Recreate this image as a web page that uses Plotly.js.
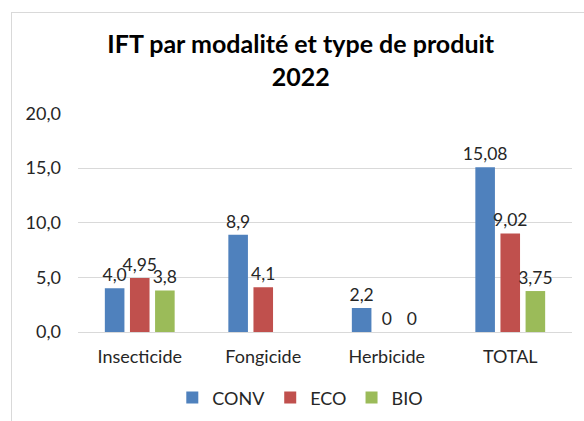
<!DOCTYPE html>
<html><head><meta charset="utf-8">
<script src="https://cdn.plot.ly/plotly-3.0.1.min.js"></script>
<style>
body{margin:0;background:#fff;}
#wrap{position:relative;width:584px;height:421px;overflow:hidden;}
#chart{position:absolute;left:0;top:0;width:584px;height:421px;}
#frame{position:absolute;left:11px;top:12px;width:600px;height:420px;border-left:1px solid #d9d9d9;border-top:1px solid #d9d9d9;pointer-events:none;}
</style></head>
<body><div id="wrap"><div id="chart"></div><div id="frame"></div></div>
<script>
const categories = ["Insecticide", "Fongicide", "Herbicide", "TOTAL"];
const seriesNames = ["CONV", "ECO", "BIO"];
const convValues = [4.0, 8.9, 2.2, 15.08];
const ecoValues = [4.95, 4.1, 0, 9.02];
const bioValues = [3.8, null, 0, 3.75];
const convLabels = ["4,0", "8,9", "2,2", "15,08"];
const ecoLabels = ["4,95", "4,1", "0", "9,02"];
const bioLabels = ["3,8", "", "0", "3,75"];
const yTicks = [0, 5, 10, 15, 20];

const colors = ["#4f81bd", "#c0504d", "#9bbb59"];
const vals = [convValues, ecoValues, bioValues];
const labs = [convLabels, ecoLabels, bioLabels];
const font = "Lato, 'Open Sans', sans-serif";

const traces = seriesNames.map((n, i) => ({
  type: "bar", name: n, x: categories, y: vals[i], text: labs[i],
  textposition: "outside", cliponaxis: false, constraintext: "none",
  textfont: {family: font, size: 17.5, color: "#262626"},
  marker: {color: colors[i]}, hoverinfo: "none"
}));

const layout = {
  width: 584, height: 421,
  margin: {l: 78, r: 12, t: 113, b: 89},
  paper_bgcolor: "#fff", plot_bgcolor: "#fff",
  separators: ", ",
  title: {text: "<b>IFT par modalité et type de produit<br>2022</b>", x: 0.515, xanchor: "center", y: 0.873, yanchor: "middle",
          font: {family: font, size: 25, color: "#000"}},
  barmode: "group", bargap: 0.39, bargroupgap: 0.22,
  xaxis: {showgrid: false, showline: false, zeroline: false, ticks: "", ticklabelstandoff: 12,
          tickfont: {family: font, size: 18, color: "#262626"}},
  yaxis: {range: [0, 20.05], tickvals: yTicks, tickformat: ".1f", showgrid: true, gridcolor: "#d9d9d9",
          zeroline: true, zerolinecolor: "#d9d9d9", showline: false, ticks: "", ticklabelstandoff: 16,
          tickfont: {family: font, size: 18, color: "#262626"}},
  showlegend: true,
  legend: {orientation: "h", x: 0.45, xanchor: "center", yref: "container", y: 0.055, yanchor: "middle",
           font: {family: font, size: 18, color: "#262626"}, itemwidth: 30, traceorder: "normal"}
};
Plotly.newPlot("chart", traces, layout, {staticPlot: true});
</script></body></html>
